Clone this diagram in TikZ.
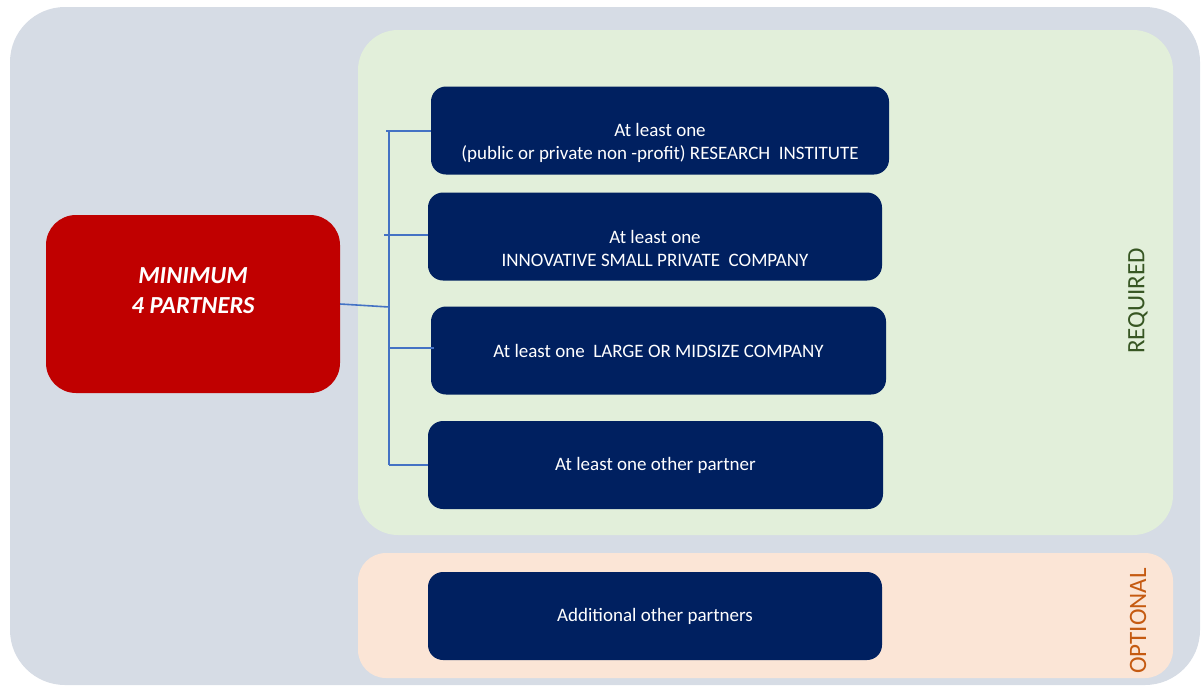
\documentclass[tikz,border=0pt]{standalone}
\usepackage{fontspec}
\setmainfont{Carlito}
\usepackage{tikz}

\definecolor{panelgrey}{HTML}{D6DCE5}
\definecolor{reqgreen}{HTML}{E2EFDA}
\definecolor{optorange}{HTML}{FBE5D6}
\definecolor{boxnavy}{HTML}{002060}
\definecolor{minred}{HTML}{C00000}
\definecolor{linkblue}{HTML}{4472C4}
\definecolor{reqtext}{HTML}{375623}
\definecolor{opttext}{HTML}{C55A11}

\begin{document}
\begin{tikzpicture}[x=1pt, y=-1pt,
		partner/.style={fill=boxnavy, rounded corners=15, text=white, align=center, minimum height=88, font=\fontsize{19}{23}\selectfont},
		boxtext/.style={text=white, align=center, font=\fontsize{19}{23}\selectfont},
		link/.style={draw=linkblue, line width=1.6},
		side/.style={rotate=90, font=\fontsize{25}{28}\selectfont}]
		\useasboundingbox (0,0) rectangle (1201,686);

		% panels
		\fill[panelgrey, rounded corners=55] (10,7) rectangle (1200,685);
		\fill[reqgreen, rounded corners=40] (358,30) rectangle (1173,535);
		\fill[optorange, rounded corners=28] (358,553) rectangle (1173,678);

		\node[side, text=reqtext] (req) at (1138,301) {REQUIRED};
		\node[side, text=opttext] (opt) at (1138,621) {OPTIONAL};

		% minimum box
		\node[fill=minred, rounded corners=30, minimum width=294, minimum height=178] (min) at (193,304) {};
		\node[text=white, align=center, font=\fontsize{24.5}{30}\selectfont\bfseries\itshape] (mintext) at (193,291) {MINIMUM\\4 PARTNERS};

		% partner boxes
		\node[partner, minimum width=458] (res) at (660,130.5) {};
		\node[boxtext] (restext) at (660,142.5) {At least one\\(public or private non -profit) RESEARCH~ INSTITUTE};
		\node[partner, minimum width=454] (sme) at (655,236.5) {};
		\node[boxtext] (smetext) at (655,248.5) {At least one\\INNOVATIVE SMALL PRIVATE~ COMPANY};
		\node[partner, minimum width=455] (large) at (658.5,350.5) {At least one~ LARGE OR MIDSIZE COMPANY};
		\node[partner, minimum width=455] (other) at (655.5,465) {At least one other partner};
		\node[partner, minimum width=454] (extra) at (655,616) {Additional other partners};

		% connectors
		\coordinate (hub) at (389,307);
		\coordinate (top) at (389,131);
		\coordinate (bot) at (389,465);
		\coordinate (t1) at (386,131);
		\coordinate (t2) at (384,235);
		\coordinate (t3) at (389,348);

		\draw[link] (min.east) -- (hub);
		\draw[link] (top) -- (bot);
		\draw[link] (t1) -- (res.west |- t1);
		\draw[link] (t2) -- (sme.west |- t2);
		\draw[link] (t3) -- ([xshift=3]large.west |- t3);
		\draw[link] (bot) -- (other.west);
	\end{tikzpicture}
\end{document}
